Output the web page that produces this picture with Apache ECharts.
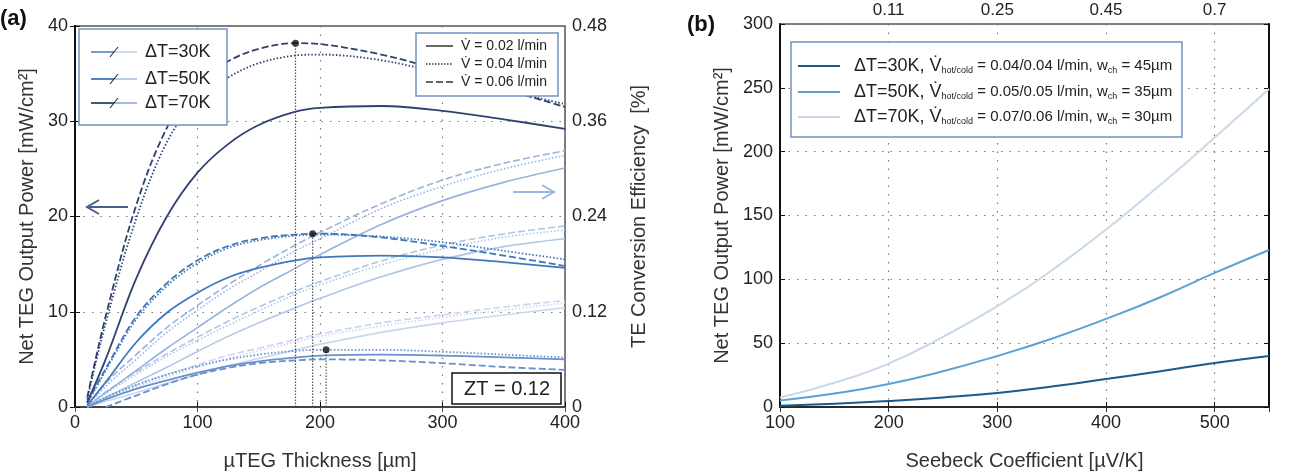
<!DOCTYPE html>
<html>
<head>
<meta charset="utf-8">
<script src="https://cdn.jsdelivr.net/npm/echarts@6/dist/echarts.min.js"></script>
<style>
html, body { margin: 0; padding: 0; background: #fff; }
#chart { width: 1291px; height: 472px; }
</style>
</head>
<body>
<div id="chart"></div>
<script>
// panel (a): thickness in um
var thickness = [10, 25, 50, 75, 100, 125, 150, 180, 200, 250, 300, 350, 400];

// net output power [mW/cm2], flow 0.02 / 0.04 / 0.06 l/min
var power70_v002 = [0.5, 5, 13.5, 20, 24.6, 27.6, 29.6, 31, 31.4, 31.6, 31.1, 30.2, 29.2];
var power70_v004 = [0.8, 8.8, 19.8, 27.8, 32.4, 34.6, 36.1, 36.9, 37, 36.4, 35, 33.3, 31.8];
var power70_v006 = [1, 9.5, 21.2, 29.3, 34, 36.3, 37.6, 38.2, 38.1, 37, 35.3, 33.4, 31.5];
var power50_v002 = [0.2, 2.6, 6.8, 9.9, 12, 13.6, 14.6, 15.4, 15.7, 15.9, 15.7, 15.2, 14.6];
var power50_v004 = [0.4, 3.8, 9.2, 12.7, 15.1, 16.7, 17.5, 18, 18.1, 17.9, 17.3, 16.4, 15.5];
var power50_v006 = [0.5, 4, 9.5, 13, 15.4, 16.9, 17.7, 18.1, 18.2, 17.8, 16.9, 15.9, 14.8];
var power30_v002 = [0, 0.8, 1.9, 2.8, 3.6, 4.3, 4.8, 5.2, 5.4, 5.5, 5.4, 5.2, 5];
var power30_v004 = [0, 1, 2.3, 3.4, 4.3, 5, 5.5, 5.9, 6, 6, 5.8, 5.5, 5.2];
var power30_v006 = [null, 0, 1.2, 2.4, 3.4, 4.1, 4.6, 4.9, 5, 4.9, 4.6, 4.2, 3.9];

// conversion efficiency [%]
var eff70_v002 = [0, 0.018, 0.046, 0.074, 0.100, 0.126, 0.150, 0.175, 0.192, 0.230, 0.260, 0.283, 0.301];
var eff70_v004 = [0, 0.026, 0.060, 0.094, 0.122, 0.148, 0.170, 0.197, 0.212, 0.250, 0.278, 0.300, 0.317];
var eff70_v006 = [0, 0.030, 0.066, 0.100, 0.128, 0.154, 0.178, 0.204, 0.220, 0.256, 0.286, 0.307, 0.323];
var eff50_v002 = [0, 0.012, 0.031, 0.050, 0.070, 0.089, 0.106, 0.125, 0.137, 0.164, 0.186, 0.202, 0.212];
var eff50_v004 = [0, 0.017, 0.041, 0.064, 0.084, 0.103, 0.121, 0.142, 0.154, 0.179, 0.199, 0.214, 0.223];
var eff50_v006 = [0, 0.019, 0.044, 0.067, 0.088, 0.108, 0.126, 0.146, 0.158, 0.184, 0.204, 0.218, 0.228];
var eff30_v002 = [0, 0.007, 0.018, 0.030, 0.041, 0.052, 0.061, 0.072, 0.079, 0.094, 0.106, 0.116, 0.125];
var eff30_v004 = [0, 0.011, 0.025, 0.038, 0.050, 0.061, 0.071, 0.082, 0.089, 0.102, 0.113, 0.122, 0.131];
var eff30_v006 = [0, 0.012, 0.028, 0.041, 0.053, 0.065, 0.074, 0.085, 0.092, 0.106, 0.116, 0.126, 0.134];

// optimum points
var peakThickness = [180, 194, 205];
var peakPower = [38.2, 18.2, 6.0];

// panel (b): seebeck coefficient [uV/K]
var seebeck = [100, 150, 200, 250, 300, 350, 400, 450, 500, 550];
var seebeck30 = [1, 2.5, 4.7, 7.5, 11, 16, 22, 28, 34.5, 40];
var seebeck50 = [5, 10.5, 18, 28, 40, 53.5, 69, 86, 105, 123];
var seebeck70 = [7.5, 19, 34, 55, 79, 107, 139, 174, 211, 249];
var ztTicks = [200, 300, 400, 500];
var ztLabels = ['0.11', '0.25', '0.45', '0.7'];

var font = 'Liberation Sans, Arial, sans-serif';
var powColors = ['#6a90cc', '#3f77bd', '#2f416f'];
var effColors = ['#c8d7ef', '#afc6e8', '#98b3e0'];
var seebeckColors = ['#1b5a89', '#5aa2d5', '#c9d9e7'];
var dashTypes = ['solid', [1.5, 2], [7, 3]];

function pairs(xs, ys) {
    return xs.map(function (x, i) { return [x, ys[i]]; });
}

var chart = echarts.init(document.getElementById('chart'));

var powerSets = [
    [power30_v002, power30_v004, power30_v006],
    [power50_v002, power50_v004, power50_v006],
    [power70_v002, power70_v004, power70_v006]
];
var effSets = [
    [eff30_v002, eff30_v004, eff30_v006],
    [eff50_v002, eff50_v004, eff50_v006],
    [eff70_v002, eff70_v004, eff70_v006]
];

var series = [];
for (var t = 0; t < 3; t++) {
    for (var v = 0; v < 3; v++) {
        series.push({
            type: 'line', xAxisIndex: 0, yAxisIndex: 1, data: pairs(thickness, effSets[t][v]),
            smooth: 0.35, showSymbol: false, silent: true, z: 2,
            lineStyle: { color: effColors[t], width: 1.6, type: dashTypes[v] }
        });
    }
}
for (var t = 0; t < 3; t++) {
    for (var v = 0; v < 3; v++) {
        series.push({
            type: 'line', xAxisIndex: 0, yAxisIndex: 0, data: pairs(thickness, powerSets[t][v]),
            smooth: 0.35, showSymbol: false, silent: true, z: 3,
            lineStyle: { color: powColors[t], width: 1.8, type: dashTypes[v] }
        });
    }
}
for (var p = 0; p < peakThickness.length; p++) {
    series.push({
        type: 'line', xAxisIndex: 0, yAxisIndex: 0, showSymbol: false, silent: true, z: 4,
        data: [[peakThickness[p], 0], [peakThickness[p], peakPower[p]]],
        lineStyle: { color: '#555', width: 1.2, type: [1.5, 1.5] }
    });
}
series.push({
    type: 'scatter', xAxisIndex: 0, yAxisIndex: 0, symbolSize: 7, z: 5,
    itemStyle: { color: '#111' }, data: pairs(peakThickness, peakPower)
});
var seebeckSets = [seebeck30, seebeck50, seebeck70];
for (var s = 0; s < 3; s++) {
    series.push({
        type: 'line', xAxisIndex: 2, yAxisIndex: 2, data: pairs(seebeck, seebeckSets[s]),
        smooth: true, showSymbol: false, silent: true,
        lineStyle: { color: seebeckColors[s], width: 2 }
    });
}

var gridLine = { show: true, lineStyle: { color: '#777', type: [1.5, 7], width: 1.2 } };
var tickLabel = { color: '#222', fontSize: 18, fontFamily: font, margin: 7 };
var axisLineDark = { show: true, lineStyle: { color: '#111', width: 2 } };
var nameStyle = { color: '#333', fontSize: 20, fontFamily: font };

var graphic = [];
// legend (a) - temperature difference
graphic.push({ type: 'rect', z: 100, shape: { x: 79, y: 29, width: 148, height: 96 },
    style: { fill: '#fff', stroke: '#7391c2', lineWidth: 1.5 } });
var legTY = [52, 79, 103];
var legTNames = ['ΔT=30K', 'ΔT=50K', 'ΔT=70K'];
for (var i = 0; i < 3; i++) {
    graphic.push({ type: 'line', z: 101, shape: { x1: 91, y1: legTY[i], x2: 114, y2: legTY[i] },
        style: { stroke: powColors[i], lineWidth: 1.8 } });
    graphic.push({ type: 'line', z: 101, shape: { x1: 114, y1: legTY[i], x2: 137, y2: legTY[i] },
        style: { stroke: effColors[i], lineWidth: 1.8 } });
    graphic.push({ type: 'line', z: 102, shape: { x1: 110, y1: legTY[i] + 5, x2: 118, y2: legTY[i] - 5 },
        style: { stroke: '#333', lineWidth: 1.2 } });
    graphic.push({ type: 'text', z: 101, x: 145, y: legTY[i],
        style: { text: legTNames[i], fill: '#222', font: '18px ' + font, verticalAlign: 'middle' } });
}
// legend (a) - flow rate
graphic.push({ type: 'rect', z: 100, shape: { x: 416, y: 33, width: 142, height: 63 },
    style: { fill: '#fff', stroke: '#7391c2', lineWidth: 1.5 } });
var legVY = [46, 64, 82];
var legVNames = ['V\u0307 = 0.02 l/min', 'V\u0307 = 0.04 l/min', 'V\u0307 = 0.06 l/min'];
for (var i = 0; i < 3; i++) {
    graphic.push({ type: 'line', z: 101, shape: { x1: 426, y1: legVY[i], x2: 453, y2: legVY[i] },
        style: { stroke: '#333', lineWidth: 1.5, lineDash: i === 0 ? null : (i === 1 ? [1.5, 1.5] : [7, 3]) } });
    graphic.push({ type: 'text', z: 101, x: 461, y: legVY[i],
        style: { text: legVNames[i], fill: '#222', font: '14px ' + font, verticalAlign: 'middle' } });
}
// ZT box
graphic.push({ type: 'rect', z: 100, shape: { x: 452, y: 373, width: 109, height: 31 },
    style: { fill: '#fff', stroke: '#111', lineWidth: 1.5 } });
graphic.push({ type: 'text', z: 101, x: 507, y: 389,
    style: { text: 'ZT = 0.12', fill: '#222', font: '20px ' + font, align: 'center', verticalAlign: 'middle' } });
// arrows
graphic.push({ type: 'polyline', z: 100, shape: { points: [[128, 207], [87, 207]] }, style: { stroke: '#4a5f8c', lineWidth: 2, fill: null } });
graphic.push({ type: 'polyline', z: 100, shape: { points: [[99, 200], [87, 207], [99, 214]] }, style: { stroke: '#4a5f8c', lineWidth: 2, fill: null } });
graphic.push({ type: 'polyline', z: 100, shape: { points: [[513, 192], [554, 192]] }, style: { stroke: '#9bb6e0', lineWidth: 2, fill: null } });
graphic.push({ type: 'polyline', z: 100, shape: { points: [[542, 185], [554, 192], [542, 199]] }, style: { stroke: '#9bb6e0', lineWidth: 2, fill: null } });
// panel labels
graphic.push({ type: 'text', x: 0, y: 8, style: { text: '(a)', fill: '#111', font: 'bold 22px ' + font } });
graphic.push({ type: 'text', x: 687, y: 14, style: { text: '(b)', fill: '#111', font: 'bold 22px ' + font } });
// legend (b)
graphic.push({ type: 'rect', z: 100, shape: { x: 791, y: 42, width: 391, height: 95 },
    style: { fill: '#fff', stroke: '#7391c2', lineWidth: 1.5 } });
var legBY = [66, 92, 117];
var legBT = ['30K', '50K', '70K'];
var legBV = ['0.04/0.04', '0.05/0.05', '0.07/0.06'];
var legBW = ['45', '35', '30'];
for (var i = 0; i < 3; i++) {
    graphic.push({ type: 'line', z: 101, shape: { x1: 798, y1: legBY[i], x2: 840, y2: legBY[i] },
        style: { stroke: seebeckColors[i], lineWidth: 2 } });
    graphic.push({ type: 'text', z: 101, x: 854, y: legBY[i],
        style: {
            text: '{a|ΔT=' + legBT[i] + ', V\u0307}{s|hot/cold}{b| = ' + legBV[i] + ' l/min, w}{s|ch}{b| = ' + legBW[i] + 'µm}',
            verticalAlign: 'middle',
            rich: {
                a: { fontSize: 18, fontFamily: font, fill: '#222', color: '#222' },
                b: { fontSize: 15, fontFamily: font, fill: '#222', color: '#222' },
                s: { fontSize: 9, fontFamily: font, fill: '#222', color: '#222', verticalAlign: 'bottom', padding: [7, 0, 0, 0] }
            }
        } });
}

var option = {
    animation: false,
    backgroundColor: '#fff',
    grid: [
        { left: 75, top: 26, width: 490, height: 381, show: true, borderColor: '#555', borderWidth: 1.5,
          outerBoundsMode: 'none', containLabel: false },
        { left: 780, top: 24, width: 489, height: 383, show: true, borderColor: '#555', borderWidth: 1.5,
          outerBoundsMode: 'none', containLabel: false }
    ],
    xAxis: [
        { gridIndex: 0, type: 'value', min: 0, max: 400, interval: 100, position: 'bottom',
          name: 'µTEG Thickness [µm]', nameLocation: 'middle', nameGap: 44, nameTextStyle: nameStyle,
          axisLine: axisLineDark, axisTick: { inside: true, length: 5, lineStyle: { color: '#111' } },
          axisLabel: tickLabel, splitLine: gridLine },
        { gridIndex: 0, type: 'value', min: 0, max: 400, interval: 100, position: 'top',
          axisLine: { show: true, lineStyle: { color: '#555', width: 1.5 } },
          axisTick: { inside: true, length: 5, lineStyle: { color: '#555' } },
          axisLabel: { show: false }, splitLine: { show: false } },
        { gridIndex: 1, type: 'value', min: 100, max: 550, interval: 100, position: 'bottom',
          name: 'Seebeck Coefficient [µV/K]', nameLocation: 'middle', nameGap: 44, nameTextStyle: nameStyle,
          axisLine: axisLineDark, axisTick: { inside: true, length: 5, lineStyle: { color: '#111' } },
          axisLabel: { color: '#222', fontSize: 18, fontFamily: font, margin: 7, showMaxLabel: false,
              formatter: function (val) { return val > 500 ? '' : val; } },
          splitLine: gridLine },
        { gridIndex: 1, type: 'value', min: 100, max: 550, interval: 100, position: 'top',
          axisLine: { show: true, lineStyle: { color: '#333', width: 1.5 } },
          axisTick: { inside: true, length: 5, lineStyle: { color: '#333' } },
          axisLabel: { color: '#222', fontSize: 17, fontFamily: font, margin: 5,
              formatter: function (val) { var k = ztTicks.indexOf(val); return k < 0 ? '' : ztLabels[k]; } },
          splitLine: { show: false } }
    ],
    yAxis: [
        { gridIndex: 0, type: 'value', min: 0, max: 40, interval: 10, position: 'left',
          name: 'Net TEG Output Power [mW/cm²]', nameLocation: 'middle', nameGap: 38, nameTextStyle: nameStyle,
          axisLine: axisLineDark, axisTick: { inside: true, length: 5, lineStyle: { color: '#111' } },
          axisLabel: tickLabel, splitLine: gridLine },
        { gridIndex: 0, type: 'value', min: 0, max: 0.48, interval: 0.12, position: 'right',
          name: 'TE Conversion Efficiency  [%]', nameLocation: 'middle', nameGap: 64, nameRotate: 90,
          nameTextStyle: nameStyle,
          axisLine: axisLineDark, axisTick: { inside: true, length: 5, lineStyle: { color: '#111' } },
          axisLabel: tickLabel, splitLine: { show: false } },
        { gridIndex: 1, type: 'value', min: 0, max: 300, interval: 50, position: 'left',
          name: 'Net TEG Output Power [mW/cm²]', nameLocation: 'middle', nameGap: 48, nameTextStyle: nameStyle,
          axisLine: axisLineDark, axisTick: { inside: true, length: 5, lineStyle: { color: '#111' } },
          axisLabel: tickLabel, splitLine: gridLine },
        { gridIndex: 1, type: 'value', min: 0, max: 300, interval: 50, position: 'right',
          axisLine: axisLineDark, axisTick: { inside: true, length: 5, lineStyle: { color: '#111' } },
          axisLabel: { show: false }, splitLine: { show: false } }
    ],
    graphic: graphic,
    series: series
};
chart.setOption(option);
</script>
</body>
</html>
